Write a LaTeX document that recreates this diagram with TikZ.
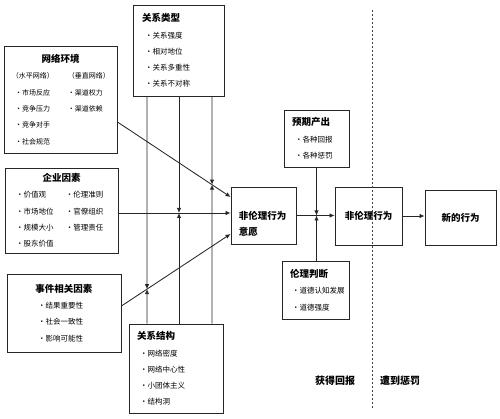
\documentclass[tikz,border=0pt]{standalone}
\usepackage{fontspec}
\setmainfont{Noto Sans CJK SC}
\usetikzlibrary{arrows.meta}
\setlength\parindent{0pt}
\newcommand\boxtitle[1]{{\fontsize{9.5}{16.3}\selectfont\bfseries #1}}

\begin{document}
\begin{tikzpicture}[x=1pt,y=-1pt,
  box/.style={draw=black!85,line width=0.9pt,inner xsep=8pt,inner ysep=0pt,
    align=left,font=\fontsize{7.5}{16.3}\selectfont},
  big/.style={font=\fontsize{9.5}{16}\selectfont\bfseries},
  link/.style={draw=black!85,line width=0.85pt,-{Latex[length=5pt,width=4.5pt]}},
  divider/.style={draw=black!75,line width=0.9pt,dash pattern=on 2pt off 2pt}]
  \useasboundingbox (0,0) rectangle (500,419);

  %% left factor boxes
  \node[box,text width=73pt,inner xsep=9pt,minimum height=91pt] (type) at (178.5,50.5)
    {\boxtitle{关系类型}\\
     \hspace{3pt}•关系强度\\
     \hspace{3pt}•相对地位\\
     \hspace{3pt}•关系多重性\\
     \hspace{3pt}•关系不对称};

  \node[box,text width=97pt,minimum height=107pt,font=\fontsize{7}{16.3}\selectfont] (net) at (60.5,99.5)
    {\makebox[\hsize]{\boxtitle{网络环境}}\\
     \makebox[56pt][l]{（水平网络）}（垂直网络）\\
     \makebox[56pt][l]{\hspace{3pt}•市场反应}•渠道权力\\
     \makebox[56pt][l]{\hspace{3pt}•竞争压力}•渠道依赖\\
     \hspace{3pt}•竞争对手\\
     \hspace{3pt}•社会规范};

  \node[box,text width=97pt,minimum height=85pt] (firm) at (61.5,210.5)
    {\makebox[\hsize]{\boxtitle{企业因素}}\\
     \makebox[53pt][l]{\hspace{3pt}•价值观}•伦理准则\\
     \makebox[53pt][l]{\hspace{3pt}•市场地位}•官僚组织\\
     \makebox[53pt][l]{\hspace{3pt}•规模大小}•管理责任\\
     \hspace{3pt}•股东价值};

  \node[box,text width=98pt,minimum height=78pt] (event) at (64,313)
    {\makebox[\hsize]{\boxtitle{事件相关因素}}\\
     \hspace{23pt}•结果重要性\\
     \hspace{23pt}•社会一致性\\
     \hspace{23pt}•影响可能性};

  \node[box,text width=78pt,minimum height=89pt] (struct) at (176,368.5)
    {\boxtitle{关系结构}\\
     \hspace{3pt}•网络密度\\
     \hspace{3pt}•网络中心性\\
     \hspace{3pt}•小团体主义\\
     \hspace{3pt}•结构洞};

  %% middle boxes
  \node[box,minimum width=65pt,minimum height=57pt,inner sep=0pt] (intent) at (263.5,215.5) {};
  \node[big,anchor=west,align=left,inner sep=0pt] (intentlbl) at ([xshift=8pt,yshift=-8pt]intent.west)
    {非伦理行为\\意愿};

  \node[box,text width=49pt,minimum height=57pt] (outcome) at (316.5,138.5)
    {\boxtitle{预期产出}\\
     \hspace{3pt}•各种回报\\
     \hspace{3pt}•各种惩罚};

  \node[box,text width=59pt,inner xsep=4pt,minimum height=58pt] (judge) at (315.5,290)
    {\hspace{4pt}\boxtitle{伦理判断}\\
     \hspace{6pt}•道德认知发展\\
     \hspace{6pt}•道德强度};

  \node[box,big,align=center,minimum width=67pt,minimum height=58pt] (behav) at (368.5,216) {非伦理行为};
  \node[box,big,align=center,minimum width=71pt,minimum height=55pt] (newb) at (460.5,217.5) {新的行为};

  %% divider
  \draw[divider] (372,10) -- (372,408);
  \node[big,font=\fontsize{10}{12}\selectfont\bfseries] (reward) at (335,381) {获得回报};
  \node[big,font=\fontsize{10}{12}\selectfont\bfseries] (punish) at (400,381) {遭到惩罚};

  %% factors to intention
  \coordinate (netout) at ([yshift=-22.5pt]net.east);
  \coordinate (firmout) at ([yshift=-2.5pt]firm.east);
  \coordinate (eventout) at ([yshift=7pt]event.east);
  \coordinate (in1) at ([yshift=18.5pt]intent.west);
  \coordinate (in3) at ([yshift=-18.5pt]intent.west);
  \draw[link] (netout) -- (in1);
  \draw[link] (firmout) -- (firmout -| intent.west);
  \draw[link] (eventout) -- (in3);

  %% moderators
  \coordinate (t1) at ([xshift=-31.5pt]type.south);
  \coordinate (t2) at ([xshift=0.5pt]type.south);
  \coordinate (t3) at ([xshift=33.5pt]type.south);
  \coordinate (s1) at (t1 |- struct.north);
  \coordinate (s2) at (t2 |- struct.north);
  \coordinate (s3) at (t3 |- struct.north);
  \coordinate (m1) at (intersection of eventout--in3 and t1--s1);
  \coordinate (m2) at (t2 |- firmout);
  \coordinate (m3) at (intersection of netout--in1 and t3--s3);
  \draw[link] (t1) -- (m1);
  \draw[link] (s1) -- (m1);
  \draw[link] (t2) -- (m2);
  \draw[link] (s2) -- (m2);
  \draw[link] (t3) -- (m3);
  \draw[link] (s3) -- (m3);

  %% intention to behaviour
  \draw[link] (intent.east) -- (intent.east -| behav.west);
  \coordinate (m4) at (outcome.south |- intent.east);
  \draw[link] (outcome.south) -- (m4);
  \draw[link] (judge.north -| m4) -- (m4);
  \draw[link] (behav.east) -- (behav.east -| newb.west);

\end{tikzpicture}
\end{document}
